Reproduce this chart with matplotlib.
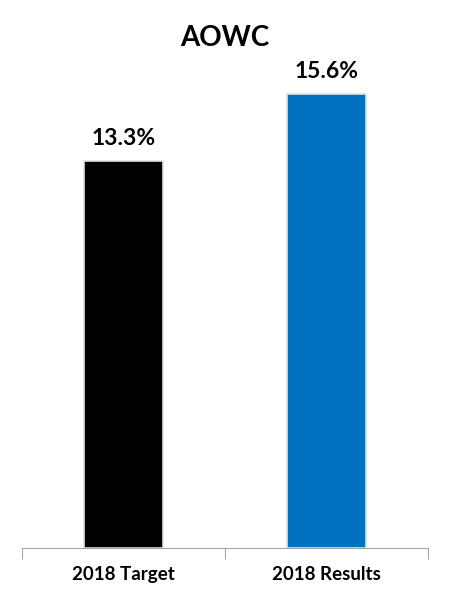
import matplotlib

matplotlib.use("Agg")
import matplotlib.pyplot as plt

categories = ["2018 Target", "2018 Results"]
values = [13.3, 15.6]
colors = ["#000000", "#0070C0"]

plt.rcParams["font.family"] = ["Lato", "DejaVu Sans"]

fig = plt.figure(figsize=(4.5, 6), dpi=100)
ax = fig.add_axes([22 / 450, 52 / 600, 406 / 450, 0.8633])

xs = list(range(len(categories)))
ax.bar(xs, values, 0.39, color=colors, edgecolor="#e0e0e0", linewidth=1.2, zorder=2)
for x, v in zip(xs, values):
	ax.text(x, v + 0.4, f"{v:.1f}%", ha="center", va="bottom", fontsize=16.5, fontweight="bold")

ax.set_xlim(-0.5, 1.5)
ax.set_ylim(0, 17.8)
ax.set_yticks([])
for s in ("top", "right", "left"):
	ax.spines[s].set_visible(False)
ax.spines["bottom"].set_color("#a6a6a6")
ax.set_xticks([-0.5, 0.5, 1.5])
ax.set_xticklabels([])
ax.tick_params(axis="x", length=8, color="#a6a6a6")
ax.set_xticks(xs, minor=True)
ax.set_xticklabels(categories, minor=True, fontsize=13.5, fontweight="bold")
ax.tick_params(axis="x", which="minor", length=0, pad=13)

fig.text(0.5, 1 - 38 / 600, "AOWC", ha="center", va="center", fontsize=20, fontweight="bold")

fig.savefig("out.png", dpi=100)
